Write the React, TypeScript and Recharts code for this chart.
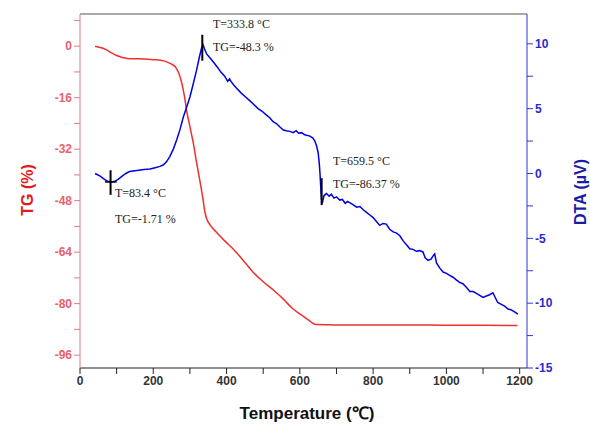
import React from "react";
import {
  ComposedChart,
  Line,
  XAxis,
  YAxis,
  ReferenceLine,
} from "recharts";

// ── TG curve (%) ──────────────────────────────────────────────────────────────
const tgTemp = [
  41, 55, 70, 85, 100, 115, 130, 150, 175, 200, 220, 235, 250, 260, 270, 278,
  285, 291, 300, 309, 318, 327, 335, 341, 346, 355, 373, 395, 418, 445, 473,
  500, 530, 555, 580, 600, 620, 645, 700, 800, 900, 1000, 1100, 1194,
];
const tgValue = [
  0, -0.4, -1.0, -2.0, -2.9, -3.5, -3.8, -3.9, -4.0, -4.2, -4.4, -4.8, -5.6,
  -6.4, -8.5, -11.6, -15.5, -20, -25, -30, -36, -41.7, -47, -51.6, -53.7,
  -55.5, -57.9, -60.5, -63, -66.5, -70.3, -73.2, -76, -78.6, -81.5, -83.2,
  -84.8, -86.5, -86.6, -86.6, -86.6, -86.7, -86.7, -86.8,
];

// ── DTA curve (µV) ────────────────────────────────────────────────────────────
const dtaTemp = [
  41, 55, 64, 75, 86, 95, 104, 115, 125, 135, 145, 160, 175, 191, 205, 218,
  227, 236, 245, 255, 264, 273, 282, 291, 300, 309, 318, 326, 332, 336, 340,
  346, 355, 364, 375, 385, 395, 403, 408, 412, 420, 430, 440, 452, 464, 475,
  486, 497, 509, 518, 527, 536, 545, 555, 563, 573, 582, 590, 597, 605, 612,
  618, 626, 635, 641, 646, 650, 653, 655, 657, 659, 662, 666, 673, 680, 686,
  693, 700, 709, 716, 724, 730, 736, 745, 755, 764, 773, 782, 791, 800, 809,
  818, 827, 836, 845, 855, 864, 873, 882, 891, 900, 909, 918, 927, 936, 942,
  950, 958, 965, 968, 973, 982, 991, 1000, 1009, 1018, 1027, 1036, 1045, 1055,
  1064, 1073, 1082, 1091, 1100, 1109, 1118, 1127, 1134, 1140, 1150, 1160,
  1168, 1176, 1185, 1195,
];
const dtaValue = [
  0.0, -0.2, -0.4, -0.6, -0.65, -0.6, -0.45, -0.2, 0.0, 0.15, 0.2, 0.25, 0.3,
  0.35, 0.45, 0.55, 0.65, 0.9, 1.3, 1.9, 2.6, 3.4, 4.35, 5.1, 5.9, 6.9, 7.95,
  9.0, 9.7, 9.9, 9.6, 9.2, 8.9, 8.6, 8.2, 7.8, 7.5, 7.1, 7.3, 7.1, 6.8, 6.5,
  6.2, 5.9, 5.6, 5.3, 5.0, 4.8, 4.5, 4.3, 4.0, 3.85, 3.6, 3.35, 3.3, 3.25,
  3.15, 3.3, 3.1, 3.15, 3.0, 2.95, 2.9, 2.75, 2.5, 2.1, 1.6, 0.8, 0.0, -1.0,
  -2.0, -2.2, -1.7, -1.55, -1.75, -1.6, -1.9, -1.8, -2.05, -2.0, -2.3, -2.15,
  -2.25, -2.4, -2.6, -2.55, -2.8, -3.0, -3.2, -3.4, -3.7, -4.0, -3.85, -3.9,
  -4.3, -4.5, -4.6, -4.8, -5.2, -5.5, -5.8, -5.85, -6.0, -5.95, -6.05, -6.5,
  -6.7, -6.6, -6.3, -6.2, -6.9, -7.3, -7.6, -7.7, -7.85, -8.0, -8.2, -8.4,
  -8.5, -8.8, -9.1, -9.1, -9.25, -9.4, -9.55, -9.45, -9.35, -9.2, -9.6, -9.95,
  -10.1, -10.25, -10.45, -10.5, -10.65, -10.85,
];

// ── Axes ──────────────────────────────────────────────────────────────────────
const xTicks = [0, 100, 200, 300, 400, 500, 600, 700, 800, 900, 1000, 1100, 1200];
const tgTicks = [-96, -88, -80, -72, -64, -56, -48, -40, -32, -24, -16, -8, 0, 8];
const dtaTicks = [-15, -12.5, -10, -7.5, -5, -2.5, 0, 2.5, 5, 7.5, 10];

// ── Annotated peaks (temperature, DTA marker from/to) ─────────────────────────
const peakTemp = [83.4, 333.8, 659.5];
const peakFrom = [0.25, 10.7, -0.36];
const peakTo = [-1.65, 8.7, -2.44];

const tgData = tgTemp.map((t, i) => ({ t, tg: tgValue[i] }));
const dtaData = dtaTemp.map((t, i) => ({ t, dta: dtaValue[i] }));

const sans = "'Liberation Sans', Arial, sans-serif";
const serif = "'Liberation Serif', 'Times New Roman', serif";

export default function App() {
  return (
    <div style={{ position: "absolute", left: 0, top: 0, width: 590, height: 424, background: "#fff" }}>
      <ComposedChart
        width={590}
        height={424}
        margin={{ top: 14, right: 0, bottom: 0, left: 0 }}
      >
        <XAxis
          xAxisId="t"
          dataKey="t"
          type="number"
          domain={[0, 1220]}
          ticks={xTicks}
          allowDataOverflow
          height={56}
          tickFormatter={(v: number) => (v % 200 === 0 ? String(v) : "")}
          tick={{ fontSize: 12, fontWeight: 700, fill: "#333", fontFamily: sans }}
          stroke="#222"
          tickSize={6}
        />
        <YAxis
          yAxisId="tg"
          orientation="left"
          domain={[-100, 10]}
          ticks={tgTicks}
          allowDataOverflow
          width={80}
          tickFormatter={(v: number) => (v % 16 === 0 ? String(v) : "")}
          tick={{ fontSize: 12, fontWeight: 700, fill: "#e8616c", fontFamily: sans }}
          stroke="#e07a86"
          tickSize={6}
        />
        <YAxis
          yAxisId="dta"
          orientation="right"
          domain={[-15, 12.3]}
          ticks={dtaTicks}
          allowDataOverflow
          width={63}
          tickFormatter={(v: number) => (v % 5 === 0 ? String(v) : "")}
          tick={{ fontSize: 12, fontWeight: 700, fill: "#2a2ad0", fontFamily: sans }}
          stroke="#3535d0"
          tickSize={6}
        />
        <ReferenceLine xAxisId="t" yAxisId="tg" y={10} stroke="#555" strokeWidth={1.2} />
        <Line
          xAxisId="t"
          yAxisId="tg"
          data={tgData}
          dataKey="tg"
          type="monotone"
          stroke="#ee3030"
          strokeWidth={1.5}
          dot={false}
          isAnimationActive={false}
        />
        <Line
          xAxisId="t"
          yAxisId="dta"
          data={dtaData}
          dataKey="dta"
          type="linear"
          stroke="#0000e0"
          strokeWidth={1.5}
          dot={false}
          isAnimationActive={false}
        />
        {peakTemp.map((t, i) => (
          <ReferenceLine
            key={t}
            xAxisId="t"
            yAxisId="dta"
            segment={[{ x: t, y: peakFrom[i] }, { x: t, y: peakTo[i] }]}
            stroke="#000"
            strokeWidth={2}
          />
        ))}
        <ReferenceLine
          xAxisId="t"
          yAxisId="dta"
          segment={[{ x: 68, y: -0.65 }, { x: 100, y: -0.65 }]}
          stroke="#000"
          strokeWidth={1.5}
        />
      </ComposedChart>
      <svg
        width={590}
        height={424}
        style={{ position: "absolute", left: 0, top: 0, pointerEvents: "none" }}
      >
        <g fontFamily={serif} fontSize={12} fill="#222">
          <text x={115} y={197}>T=83.4 °C</text>
          <text x={115} y={223}>TG=-1.71 %</text>
          <text x={213} y={27.5}>T=333.8 °C</text>
          <text x={213} y={51}>TG=-48.3 %</text>
          <text x={333} y={165}>T=659.5 °C</text>
          <text x={333} y={187.5}>TG=-86.37 %</text>
        </g>
        <text
          x={27}
          y={190}
          transform="rotate(-90 27 190)"
          textAnchor="middle"
          dominantBaseline="central"
          fontFamily={sans}
          fontWeight={700}
          fontSize={16}
          fill="#e41a1a"
        >
          TG (%)
        </text>
        <text
          x={580}
          y={192}
          transform="rotate(-90 580 192)"
          textAnchor="middle"
          dominantBaseline="central"
          fontFamily={sans}
          fontWeight={700}
          fontSize={16}
          fill="#1c1ca8"
        >
          DTA (µV)
        </text>
        <text
          x={307}
          y={413}
          textAnchor="middle"
          dominantBaseline="central"
          fontFamily={sans}
          fontWeight={700}
          fontSize={17}
          fill="#111"
        >
          Temperature (℃)
        </text>
      </svg>
    </div>
  );
}
